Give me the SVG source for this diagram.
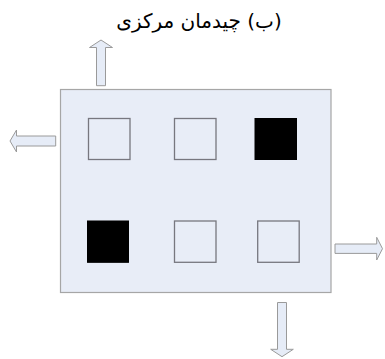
<svg xmlns="http://www.w3.org/2000/svg" width="385" height="359" viewBox="0 0 385 359">
<style>
.arrow{fill:#e6ecf7;stroke:#9a9a9a;stroke-width:1}
.box{fill:#e8edf7;stroke:#a6a6a6;stroke-width:1.2}
.sq{fill:#e8edf7;stroke:#77777f;stroke-width:1.3}
.blk{fill:#000;stroke:#000;stroke-width:1}
.title{font-family:"DejaVu Sans",sans-serif;font-size:20px;fill:#000}
</style>
<rect width="385" height="359" fill="#fff"/>
<text class="title" x="199" y="28" text-anchor="middle" direction="rtl">(ب) چیدمان مرکزی</text>
<g id="panel">
<rect class="box" x="60.5" y="89.5" width="270.5" height="203"/>
</g>
<g id="cell1"><rect class="sq" x="88.5" y="118.5" width="41.5" height="41"/></g>
<g id="cell2"><rect class="sq" x="174.5" y="118.5" width="41.5" height="41"/></g>
<g id="cell3"><rect class="blk" x="255" y="118.5" width="41.5" height="41"/></g>
<g id="cell4"><rect class="blk" x="87.5" y="221" width="41" height="41.3"/></g>
<g id="cell5"><rect class="sq" x="174.5" y="221" width="41.5" height="41.3"/></g>
<g id="cell6"><rect class="sq" x="257.7" y="221" width="41.5" height="41.3"/></g>
<g id="connectors">
<polygon class="arrow" points="96.5,85.7 96.5,47.5 89.5,47.5 101,40 112.5,47.5 105.5,47.5 105.5,85.7"/>
<polygon class="arrow" points="55.7,136 16.5,136 16.5,130 10,141 16.5,152 16.5,146 55.7,146"/>
<polygon class="arrow" points="335,244 376.7,244 376.7,237.3 382.5,248.7 376.7,260 376.7,253.4 335,253.4"/>
<polygon class="arrow" points="277.5,302.5 286.5,302.5 286.5,349.3 293.3,349.3 282,356.7 270.7,349.3 277.5,349.3"/>
</g>
</svg>
